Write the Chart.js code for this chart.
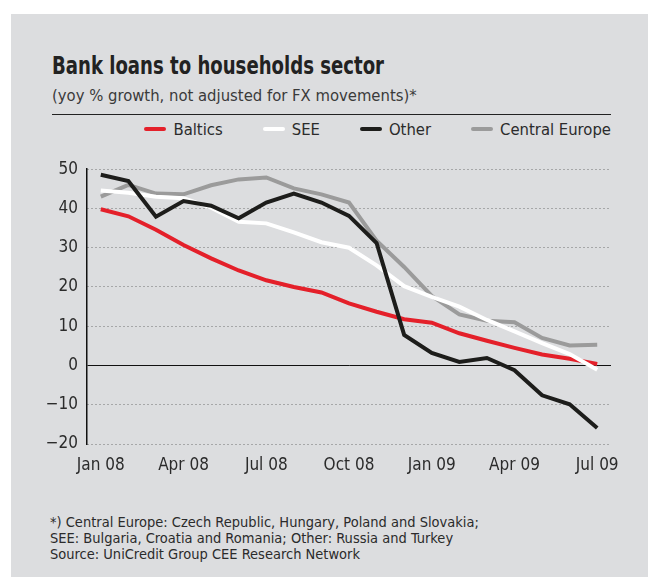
<!DOCTYPE html>
<html>
<head>
<meta charset="utf-8">
<script src="https://cdn.jsdelivr.net/npm/chart.js@4/dist/chart.umd.min.js"></script>
<style>
  html, body { margin: 0; padding: 0; background: #fff; }
  body { width: 649px; height: 577px; position: relative; overflow: hidden;
         font-family: "DejaVu Sans Condensed", "Liberation Sans", sans-serif; color: #2b2b2b; }
  .panel { position: absolute; left: 11px; top: 14px; right: 1px; bottom: 0; background: #dcdddf; }
  .title { position: absolute; left: 52px; top: 54px; font-size: 24px; line-height: 24px; font-weight: bold;
           color: #222; white-space: nowrap; transform-origin: 0 0; }
  .subtitle { position: absolute; left: 52px; top: 87px; font-size: 16.5px; line-height: 17px; color: #3a3a3a; white-space: nowrap; }
  .rule { position: absolute; left: 52px; top: 114px; width: 559px; height: 1px; background: #222; }
  .legend { position: absolute; right: 38px; top: 119px; height: 20px; display: flex; align-items: center; gap: 40px;
            font-size: 16.5px; color: #2b2b2b; }
  .legend .item { display: flex; align-items: center; }
  .legend .swatch { width: 22px; height: 4px; border-radius: 2px; margin-right: 7px; }
  .chart-box { position: absolute; left: 0; top: 150px; width: 649px; height: 330px; }
  .notes { position: absolute; left: 50px; top: 514px; font-size: 14.5px; line-height: 16px; color: #2b2b2b; white-space: nowrap; }
</style>
</head>
<body>
<div class="panel"></div>
<div class="title" id="title">Bank loans to households sector</div>
<div class="subtitle">(yoy % growth, not adjusted for FX movements)*</div>
<div class="rule"></div>
<div class="legend" id="legend"></div>
<div class="chart-box"><canvas id="loans" width="649" height="330"></canvas></div>
<div class="notes">
  *) Central Europe: Czech Republic, Hungary, Poland and Slovakia;<br>
  SEE: Bulgaria, Croatia and Romania; Other: Russia and Turkey<br>
  Source: UniCredit Group CEE Research Network
</div>

<script>
// Monthly observations, Jan 2008 - Jul 2009 (yoy % growth)
const months = ['Jan 08', 'Feb 08', 'Mar 08', 'Apr 08', 'May 08', 'Jun 08', 'Jul 08', 'Aug 08', 'Sep 08',
  'Oct 08', 'Nov 08', 'Dec 08', 'Jan 09', 'Feb 09', 'Mar 09', 'Apr 09', 'May 09', 'Jun 09', 'Jul 09'];

const baltics = [39.8, 38.0, 34.6, 30.7, 27.3, 24.2, 21.7, 20.0, 18.6, 15.8, 13.7, 11.8, 10.9, 8.2, 6.3, 4.5, 2.8, 1.7, 0.4];
const see = [44.6, 44.0, 43.0, 42.6, 40.2, 36.6, 36.2, 33.9, 31.4, 30.0, 25.5, 20.2, 17.5, 15.0, 11.6, 8.7, 5.7, 2.9, -1.1];
const other = [48.6, 47.0, 37.9, 41.9, 40.7, 37.5, 41.5, 43.8, 41.5, 38.1, 31.2, 7.8, 3.2, 0.9, 1.9, -1.2, -7.6, -9.9, -15.9];
const centralEurope = [43.0, 46.0, 43.8, 43.6, 45.9, 47.4, 47.9, 45.1, 43.6, 41.5, 31.8, 25.1, 17.7, 13.0, 11.4, 11.0, 7.0, 5.1, 5.3];

const seriesNames = ['Baltics', 'SEE', 'Other', 'Central Europe'];
const seriesColors = ['#e4202a', '#ffffff', '#1d1d1b', '#9b9b9b'];
const seriesData = [baltics, see, other, centralEurope];
// draw order: higher number goes further back
const seriesOrder = [3, 2, 1, 4];

const FONT = '"DejaVu Sans Condensed", "Liberation Sans", sans-serif';

// squeeze the headline to a condensed width
const titleEl = document.getElementById('title');
titleEl.style.transform = `scaleX(${332 / titleEl.getBoundingClientRect().width})`;

// legend built from the series definitions
const legendEl = document.getElementById('legend');
seriesNames.forEach((name, i) => {
  const item = document.createElement('div');
  item.className = 'item';
  item.innerHTML = `<span class="swatch" style="background:${seriesColors[i]}"></span>${name}`;
  legendEl.appendChild(item);
});

const datasets = seriesNames.map((name, i) => ({
  label: name,
  data: seriesData[i],
  borderColor: seriesColors[i],
  backgroundColor: seriesColors[i],
  borderWidth: 4,
  tension: 0,
  pointRadius: 0,
  fill: false,
  order: seriesOrder[i]
}));

new Chart(document.getElementById('loans').getContext('2d'), {
  type: 'line',
  data: { labels: months, datasets },
  options: {
    responsive: false,
    animation: false,
    devicePixelRatio: 1,
    layout: { padding: { top: 16, right: 38, left: 0, bottom: 0 } },
    plugins: {
      legend: { display: false },
      tooltip: { enabled: false }
    },
    scales: {
      x: {
        type: 'category',
        offset: true,
        grid: { display: false, drawTicks: false },
        border: { display: false },
        ticks: {
          autoSkip: false,
          maxRotation: 0,
          padding: 11,
          color: '#2b2b2b',
          font: { family: FONT, size: 17 },
          callback: (value, index) => (index % 3 === 0 ? months[index] : '')
        },
        afterFit: (scale) => { scale.height = 36; }
      },
      y: {
        min: -20,
        max: 50,
        grid: {
          drawTicks: false,
          lineWidth: 1,
          color: (ctx) => (ctx.tick && ctx.tick.value === 0 ? '#111111' : '#707070')
        },
        border: {
          display: true,
          color: '#111111',
          width: 1.5,
          dash: (ctx) => (ctx.tick && ctx.tick.value === 0 ? [] : [1, 3])
        },
        ticks: {
          stepSize: 10,
          padding: 9,
          color: '#2b2b2b',
          font: { family: FONT, size: 17 },
          callback: (value) => String(value).replace('-', '\u2212')
        },
        afterFit: (scale) => { scale.width = 87; }
      }
    }
  }
});
</script>
</body>
</html>
